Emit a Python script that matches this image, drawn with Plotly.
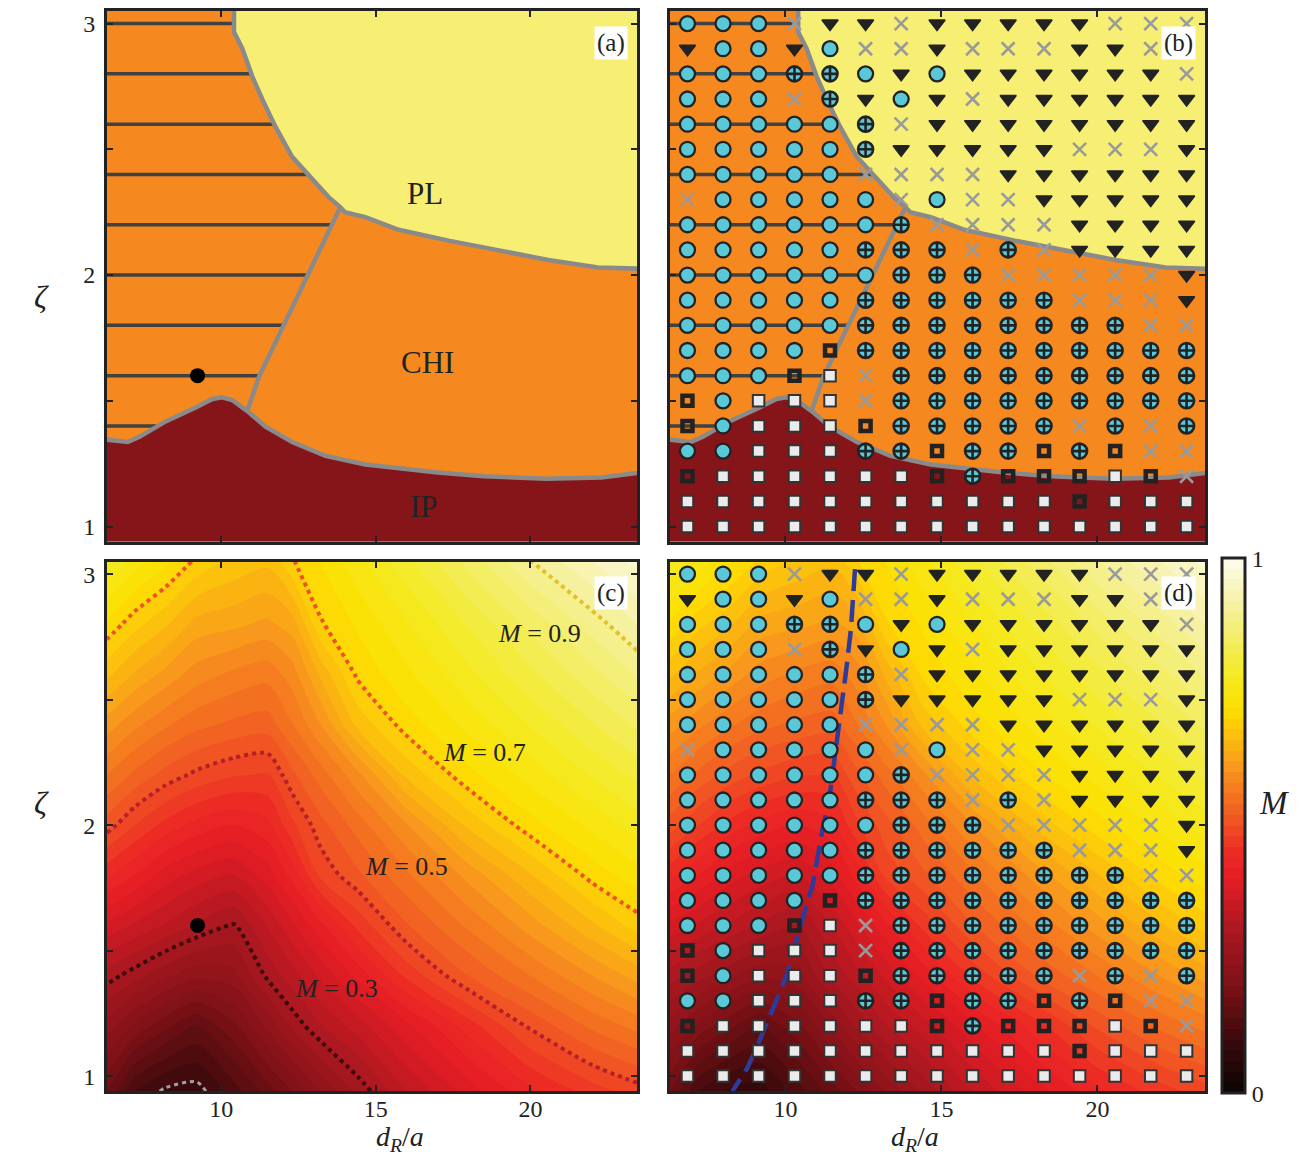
import plotly.graph_objects as go

# page body adds an 8 px margin, so the figure is placed 8 px in from the top-left
OFF = 8
W, H = 1302 - 2 * OFF, 1165 - 2 * OFF
XR = [6.3, 23.45]
YR = [0.94, 3.05]
FONT = "Liberation Serif"
INK = "#222222"

# ---------------- simulation grid (panels b, d) ----------------
GRID_X = [6.86, 8.0, 9.14, 10.29, 11.43, 12.57, 13.71, 14.86, 16.0, 17.14,
          18.29, 19.43, 20.57, 21.71, 22.86]
GRID_Y = [3.0, 2.9, 2.8, 2.7, 2.6, 2.5, 2.4, 2.3, 2.2, 2.1, 2.0, 1.9, 1.8,
          1.7, 1.6, 1.5, 1.4, 1.3, 1.2, 1.1, 1.0]
# C circle, P circle-plus, X cross, T down-triangle, S square, B bold square
STATE_ROWS = [
    "CCCXTTXTTTTTXXX",
    "TCCTCXXTXXXTTXX",
    "CCCPPCTCTTTTTTX",
    "CCCXPTCTXTTTTTT",
    "CCCCCPXTTTTTTTT",
    "CCCCCPTTTTTXXXT",
    "CCCCCXXXXTTTTTT",
    "XCCCCCXCXXTTTTT",
    "CCCCCCPXXXXTTTT",
    "CCCCCPPPXPXTTTT",
    "CCCCCCPPPXXXXXT",
    "CCCCCPPPPPPXXXT",
    "CCCCCPPPPPPPPXX",
    "CCCCBPPPPPPPPPP",
    "CCCBSXPPPPPPPPP",
    "BCSSSXPPPPPPPPP",
    "BCSSSBPPPPPXPXP",
    "CCSSSPPBPPBPBXX",
    "BSSSSSSBPBBBSBX",
    "SSSSSSSSSSSBSSS",
    "SSSSSSSSSSSSSSS",
]

# ---------------- phase boundaries (panels a, b) ----------------
PL_X = [10.41, 10.41, 10.68, 11.0, 11.32, 11.75, 12.29, 12.94, 13.47, 13.85,
        14.0, 14.66, 15.74, 17.35, 18.97, 20.58, 22.19, 23.6]
PL_Y = [3.1, 2.966, 2.90, 2.79, 2.70, 2.59, 2.47, 2.38, 2.31, 2.27,
        2.25, 2.23, 2.18, 2.137, 2.10, 2.06, 2.03, 2.025]
CHI_X = [13.85, 13.15, 12.5, 12.18, 11.65, 11.22, 10.84]
CHI_Y = [2.27, 2.09, 1.925, 1.84, 1.705, 1.596, 1.46]
IP_X = [6.2, 6.97, 7.34, 8.2, 9.17, 9.71, 10.03, 10.35, 10.84, 11.43, 12.29,
        13.37, 14.66, 15.73, 17.0, 18.5, 20.5, 22.3, 23.6]
IP_Y = [1.347, 1.336, 1.356, 1.418, 1.473, 1.507, 1.514, 1.503, 1.459, 1.397,
        1.336, 1.281, 1.247, 1.232, 1.215, 1.20, 1.19, 1.195, 1.215]
STRIPE_Y = [3.0, 2.8, 2.6, 2.4, 2.2, 2.0, 1.8, 1.6, 1.4]
STRIPE_XEND = [10.41, 10.98, 11.7, 12.85, 13.55, 12.8, 12.02, 11.27, 7.9]
DOT_X = [9.23]
DOT_Y = [1.6]

# ---------------- M field (panels c, d) ----------------
M_X = [6.3, 7.2, 8.2, 9.2, 10.4, 11.5, 12.3, 13.2, 14.4, 16, 18, 20, 22, 23.45]
M_Y = [0.94, 1.2, 1.4, 1.6, 1.8, 2.0, 2.2, 2.4, 2.6, 2.8, 3.05]
M_Z = [
    [0.18, 0.12, 0.095, 0.09, 0.13, 0.17, 0.20, 0.24, 0.285, 0.34, 0.39, 0.435, 0.47, 0.49],
    [0.25, 0.215, 0.185, 0.16, 0.195, 0.245, 0.285, 0.318, 0.35, 0.395, 0.45, 0.504, 0.545, 0.567],
    [0.31, 0.289, 0.264, 0.245, 0.253, 0.305, 0.332, 0.364, 0.406, 0.465, 0.52, 0.56, 0.60, 0.628],
    [0.375, 0.357, 0.337, 0.317, 0.297, 0.342, 0.376, 0.414, 0.465, 0.518, 0.564, 0.61, 0.656, 0.689],
    [0.445, 0.42, 0.39, 0.372, 0.36, 0.39, 0.428, 0.484, 0.515, 0.556, 0.607, 0.658, 0.708, 0.731],
    [0.51, 0.48, 0.453, 0.433, 0.42, 0.435, 0.475, 0.512, 0.549, 0.599, 0.665, 0.712, 0.745, 0.769],
    [0.56, 0.535, 0.512, 0.495, 0.482, 0.478, 0.515, 0.549, 0.594, 0.665, 0.714, 0.748, 0.782, 0.806],
    [0.61, 0.585, 0.563, 0.546, 0.535, 0.53, 0.559, 0.599, 0.665, 0.71, 0.746, 0.782, 0.818, 0.844],
    [0.665, 0.637, 0.613, 0.59, 0.575, 0.567, 0.59, 0.643, 0.704, 0.735, 0.775, 0.814, 0.853, 0.882],
    [0.715, 0.687, 0.663, 0.632, 0.625, 0.615, 0.63, 0.697, 0.723, 0.758, 0.802, 0.846, 0.889, 0.92],
    [0.78, 0.75, 0.725, 0.695, 0.675, 0.665, 0.698, 0.721, 0.753, 0.794, 0.847, 0.899, 0.94, 0.966],
]
LEVELS = [0.1, 0.3, 0.5, 0.7, 0.9]
LEVEL_COLORS = ["#a0a0a0", "#3a0c0c", "#b3202c", "#ef5226", "#e3c02c"]
LABEL_TEXT = ["<i>M</i> = 0.9", "<i>M</i> = 0.7", "<i>M</i> = 0.5", "<i>M</i> = 0.3"]
LABEL_X = [20.31, 18.53, 15.98, 13.74]
LABEL_Y = [2.765, 2.29, 1.835, 1.348]

DASH_X = [12.23, 12.1, 11.94, 11.8, 11.68, 11.55, 11.39, 11.2, 11.03, 10.87,
          10.58, 10.32, 10.06, 9.74, 9.45, 9.13, 8.77, 8.39, 8.3]
DASH_Y = [3.02, 2.78, 2.61, 2.47, 2.35, 2.23, 2.09, 1.99, 1.87, 1.76,
          1.64, 1.53, 1.41, 1.31, 1.22, 1.13, 1.03, 0.96, 0.94]

CBAR_MINOR = [0.2, 0.4, 0.6, 0.8]

COLORSCALE = [
    [0.0, "#0a0404"], [0.1, "#3a0a0c"], [0.2, "#7d1116"], [0.3, "#a8181f"],
    [0.4, "#e41c24"], [0.45, "#ec2b25"], [0.5, "#f04e24"], [0.6, "#f7911e"],
    [0.67, "#fcc10d"], [0.72, "#fde000"], [0.78, "#f3ea22"], [0.85, "#f3ee66"],
    [0.92, "#f7f2a8"], [1.0, "#fffdf0"],
]

ORANGE = "#f5891f"
YELLOW = "#f7ef74"
DARKRED = "#86151a"
GRAYLINE = "#8a8a8a"


def fx(px):
    return min(1.0, max(0.0, (px - OFF) / W))


def fy(py):
    return min(1.0, max(0.0, 1 - (py - OFF) / H))


fig = go.Figure()


def ax(n):
    return ("x" if n == 1 else f"x{n}"), ("y" if n == 1 else f"y{n}")


def add_phase_background(n):
    xa, ya = ax(n)
    fig.add_trace(go.Scatter(x=PL_X + [23.6, 10.41], y=PL_Y + [3.1, 3.1],
                             fill="toself", fillcolor=YELLOW, mode="none",
                             xaxis=xa, yaxis=ya, hoverinfo="skip", showlegend=False))
    fig.add_trace(go.Scatter(x=IP_X + [23.6, 6.2], y=IP_Y + [0.9, 0.9],
                             fill="toself", fillcolor=DARKRED, mode="none",
                             xaxis=xa, yaxis=ya, hoverinfo="skip", showlegend=False))
    sx, sy = [], []
    for yv, xe in zip(STRIPE_Y, STRIPE_XEND):
        sx += [6.2, xe, None]
        sy += [yv, yv, None]
    fig.add_trace(go.Scatter(x=sx, y=sy, mode="lines",
                             line=dict(color="#414141", width=3.5),
                             xaxis=xa, yaxis=ya, hoverinfo="skip", showlegend=False))
    for bx, by in ((PL_X, PL_Y), (CHI_X, CHI_Y), (IP_X, IP_Y)):
        fig.add_trace(go.Scatter(x=bx, y=by, mode="lines",
                                 line=dict(color=GRAYLINE, width=4.5),
                                 xaxis=xa, yaxis=ya, hoverinfo="skip", showlegend=False))


def add_markers(n):
    xa, ya = ax(n)
    styles = {
        "S": dict(symbol="square", size=11.5, color="#ebebeb", line=dict(color="#333333", width=2)),
        "B": dict(symbol="square", size=10, color="rgba(0,0,0,0)", line=dict(color=INK, width=4.5)),
        "X": dict(symbol="x-thin", size=13, color="#9a9a9a", line=dict(color="#9a9a9a", width=2.6)),
        "T": dict(symbol="triangle-down", size=14, color=INK, line=dict(color=INK, width=1.5)),
        "C": dict(symbol="circle", size=15, color="#5bc8d7", line=dict(color=INK, width=2.3)),
        "P": dict(symbol="circle-cross", size=15, color="#5bc8d7", line=dict(color=INK, width=2.6)),
    }
    for code in "SBXTCP":
        xs, ys = [], []
        for yv, row in zip(GRID_Y, STATE_ROWS):
            for xv, c in zip(GRID_X, row):
                if c == code:
                    xs.append(xv)
                    ys.append(yv)
        fig.add_trace(go.Scatter(x=xs, y=ys, mode="markers", marker=styles[code],
                                 xaxis=xa, yaxis=ya, hoverinfo="skip",
                                 showlegend=False, cliponaxis=False))


CB_TOP, CB_BOT, CB_LEFT, CB_RIGHT = 558, 1093, 1222, 1245


def add_field(n, showscale):
    xa, ya = ax(n)
    cb = dict(
        x=fx(CB_LEFT), xanchor="left", y=fy(CB_BOT), yanchor="bottom",
        len=CB_BOT - CB_TOP, lenmode="pixels", thickness=23, thicknessmode="pixels",
        outlinewidth=3, outlinecolor=INK, xpad=0, ypad=0,
        tickvals=[0, 1.0], ticktext=["0", "1"],
        ticks="inside", ticklen=5, tickwidth=2, tickcolor=INK,
        tickfont=dict(family=FONT, size=24, color=INK),
    )
    fig.add_trace(go.Contour(
        x=M_X, y=M_Y, z=M_Z, zmin=0, zmax=1, zauto=False,
        colorscale=COLORSCALE, autocontour=False,
        contours=dict(start=0.0, end=1.0, size=0.02, coloring="fill", showlines=False),
        line=dict(width=0, smoothing=0.8),
        showscale=showscale, colorbar=cb if showscale else None,
        xaxis=xa, yaxis=ya, hoverinfo="skip"))


# panel (a)
add_phase_background(1)
fig.add_trace(go.Scatter(x=DOT_X, y=DOT_Y, mode="markers",
                         marker=dict(size=15, color="black"),
                         xaxis="x", yaxis="y", hoverinfo="skip", showlegend=False))
# panel (b)
add_phase_background(2)
add_markers(2)
# panel (c)
add_field(3, False)
for lv, col in zip(LEVELS, LEVEL_COLORS):
    fig.add_trace(go.Contour(
        x=M_X, y=M_Y, z=M_Z, autocontour=False, showscale=False,
        contours=dict(start=lv, end=lv, size=0.1, coloring="none"),
        line=dict(color=col, width=4 if lv > 0.15 else 3, dash="4px,4px", smoothing=0.8),
        xaxis="x3", yaxis="y3", hoverinfo="skip"))
fig.add_trace(go.Scatter(x=DOT_X, y=DOT_Y, mode="markers",
                         marker=dict(size=15, color="black"),
                         xaxis="x3", yaxis="y3", hoverinfo="skip", showlegend=False))
# panel (d)
add_field(4, True)
fig.add_trace(go.Scatter(x=DASH_X, y=DASH_Y, mode="lines",
                         line=dict(color="#2e3b98", width=4.5, dash="22px,9px"),
                         xaxis="x4", yaxis="y4", hoverinfo="skip", showlegend=False))
add_markers(4)

# ---------------- layout ----------------
xdom = {1: [fx(107), fx(637)], 2: [fx(670), fx(1205)], 3: [fx(107), fx(637)], 4: [fx(670), fx(1205)]}
ydom = {1: [fy(540), fy(8)], 2: [fy(540), fy(8)], 3: [fy(1091), fy(560)], 4: [fy(1091), fy(560)]}

layout = dict(width=W, height=H, margin=dict(l=0, r=0, t=0, b=0), autosize=False,
              paper_bgcolor="white", plot_bgcolor=ORANGE, showlegend=False)
tickfont = dict(family=FONT, size=24, color=INK)
for n in range(1, 5):
    xk = "xaxis" if n == 1 else f"xaxis{n}"
    yk = "yaxis" if n == 1 else f"yaxis{n}"
    xa, ya = ax(n)
    layout[xk] = dict(domain=xdom[n], range=XR, anchor=ya, showgrid=False, zeroline=False,
                      showline=True, linewidth=3, linecolor=INK, mirror="ticks",
                      ticks="inside", ticklen=6, tickwidth=2, tickcolor=INK,
                      tickvals=[10, 15, 20], ticktext=["10", "15", "20"],
                      showticklabels=n in (3, 4), tickfont=tickfont,
                      ticklabelstandoff=-6)
    layout[yk] = dict(domain=ydom[n], range=YR, anchor=xa, showgrid=False, zeroline=False,
                      showline=True, linewidth=3, linecolor=INK, mirror="ticks",
                      ticks="inside", ticklen=6, tickwidth=2, tickcolor=INK,
                      tickvals=[1, 2, 3], ticktext=["1", "2", "3"],
                      minor=dict(tickvals=[1.5, 2.5], ticks="inside", ticklen=6,
                                 tickwidth=2, tickcolor=INK, showgrid=False),
                      showticklabels=n in (1, 3), tickfont=tickfont,
                      ticklabelstandoff=4)
fig.update_layout(**layout)

# inner colour-bar ticks at 0.2 ... 0.8
shapes = []
for v in CBAR_MINOR:
    py = CB_BOT - v * (CB_BOT - CB_TOP)
    shapes.append(dict(type="line", xref="paper", yref="paper",
                       x0=fx(CB_LEFT + 23 - 5), x1=fx(CB_LEFT + 23), y0=fy(py), y1=fy(py),
                       line=dict(color=INK, width=2)))
fig.update_layout(shapes=shapes)

ann = []
for n, lab in zip(range(1, 5), ["(a)", "(b)", "(c)", "(d)"]):
    xa, ya = ax(n)
    ann.append(dict(text=lab, xref=f"{xa} domain", yref=f"{ya} domain", x=0.983, y=0.972,
                    xanchor="right", yanchor="top", showarrow=False, bgcolor="white",
                    borderpad=2, font=dict(family=FONT, size=25, color=INK)))
for t, xv, yv in (("PL", 16.59, 2.326), ("CHI", 16.66, 1.653), ("IP", 16.56, 1.079)):
    ann.append(dict(text=t, xref="x", yref="y", x=xv, y=yv, showarrow=False,
                    font=dict(family=FONT, size=31, color=INK)))
for t, xv, yv in zip(LABEL_TEXT, LABEL_X, LABEL_Y):
    ann.append(dict(text=t, xref="x3", yref="y3", x=xv, y=yv, showarrow=False,
                    font=dict(family=FONT, size=26, color=INK)))
xlab = "<i>d</i><sub><i>R</i></sub>/<i>a</i>"
for xc in (fx(375), fx(940)):
    ann.append(dict(text=xlab, xref="paper", yref="paper", x=xc, y=0.0, yanchor="bottom",
                    showarrow=False, borderpad=0,
                    font=dict(family=FONT, size=28, color=INK)))
for yc in (fy(275), fy(822)):
    ann.append(dict(text="<i>ζ</i>", xref="paper", yref="paper", x=fx(32), y=yc,
                    showarrow=False, font=dict(family=FONT, size=32, color=INK)))
ann.append(dict(text="<i>M</i>", xref="paper", yref="paper", x=fx(1257), y=fy(822),
                xanchor="left", showarrow=False, font=dict(family=FONT, size=33, color=INK)))
fig.update_layout(annotations=ann)

fig.write_html("out.html")
